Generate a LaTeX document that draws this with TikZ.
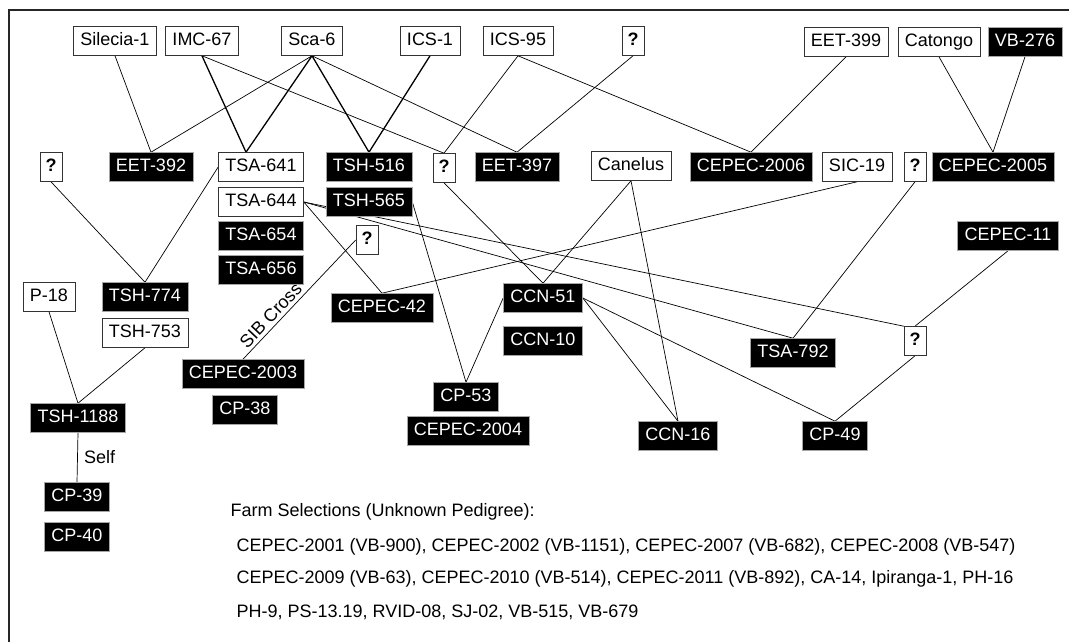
\documentclass[tikz,border=0pt]{standalone}
\usepackage{fontspec}
\setmainfont{Liberation Sans}
\pgfdeclarelayer{links}
\pgfsetlayers{links,main}
\tikzset{
  lbl/.style={font=\fontsize{18}{21}\selectfont},
  wbox/.style={lbl, draw=black!80, line width=0.6pt, fill=white, text=black,
    minimum height=29pt, inner xsep=7pt, inner ysep=0pt, text height=13pt, text depth=3.5pt},
  bbox/.style={wbox, draw=black!35, fill=black, text=white},
  qbox/.style={wbox, minimum width=22pt, inner xsep=3pt, font=\fontsize{18}{21}\selectfont\bfseries},
  link/.style={line width=0.7pt},
  dlink/.style={line width=1.3pt}
}
\begin{document}
\begin{tikzpicture}[x=1pt,y=-1pt]
\useasboundingbox (0,0) rectangle (1069,642);
\draw[line width=2.2pt, black!85] (9,642) -- (9,10) -- (1069,10);

% founders
\node[wbox] (silecia) at (115,41) {Silecia-1};
\node[wbox] (imc67) at (202,41) {IMC-67};
\node[wbox] (sca6) at (312,41) {Sca-6};
\node[wbox] (ics1) at (430,41) {ICS-1};
\node[wbox] (ics95) at (518,41) {ICS-95};
\node[qbox] (q1) at (633,41) {?};
\node[wbox] (eet399) at (846,42) {EET-399};
\node[wbox] (catongo) at (939,42) {Catongo};
\node[bbox] (vb276) at (1025,42) {VB-276};

% second row
\node[qbox] (q2) at (51,167) {?};
\node[bbox] (eet392) at (151,167) {EET-392};
\node[wbox] (tsa641) at (261,167) {TSA-641};
\node[bbox] (tsh516) at (369,167) {TSH-516};
\node[qbox] (q3) at (444,168) {?};
\node[bbox] (eet397) at (517,167) {EET-397};
\node[wbox] (canelus) at (631,166) {Canelus};
\node[bbox] (cepec2006) at (751,167) {CEPEC-2006};
\node[wbox] (sic19) at (857,167) {SIC-19};
\node[qbox] (q4) at (915,167) {?};
\node[bbox] (cepec2005) at (993,167) {CEPEC-2005};

\node[wbox] (tsa644) at (261,202) {TSA-644};
\node[bbox] (tsh565) at (369,202) {TSH-565};
\node[bbox] (tsa654) at (261,236) {TSA-654};
\node[bbox] (tsa656) at (261,269.5) {TSA-656};
\node[qbox] (q5) at (367,240) {?};
\node[bbox] (cepec11) at (1008,236) {CEPEC-11};

% lower rows
\node[wbox] (p18) at (49,297) {P-18};
\node[bbox] (tsh774) at (145,297) {TSH-774};
\node[wbox] (tsh753) at (145,333) {TSH-753};
\node[bbox] (cepec42) at (382,308) {CEPEC-42};
\node[bbox] (ccn51) at (543,298) {CCN-51};
\node[bbox] (ccn10) at (543,341) {CCN-10};
\node[bbox] (tsa792) at (793,353) {TSA-792};
\node[qbox] (q6) at (915,341) {?};
\node[bbox] (cepec2003) at (243,374) {CEPEC-2003};
\node[bbox] (cp38) at (245,410) {CP-38};
\node[bbox] (tsh1188) at (78,418) {TSH-1188};
\node[bbox] (cp53) at (466,397) {CP-53};
\node[bbox] (cepec2004) at (468,431) {CEPEC-2004};
\node[bbox] (ccn16) at (678,436) {CCN-16};
\node[bbox] (cp49) at (835,436) {CP-49};
\node[bbox] (cp39) at (77,497) {CP-39};
\node[bbox] (cp40) at (77,537) {CP-40};

% farm selections
\node[lbl, anchor=west] (farm) at (227,512) {Farm Selections (Unknown Pedigree):};
\node[lbl, anchor=west] (sel1) at (233,547) {CEPEC-2001 (VB-900), CEPEC-2002 (VB-1151), CEPEC-2007 (VB-682), CEPEC-2008 (VB-547)};
\node[lbl, anchor=west] (sel2) at (233,579) {CEPEC-2009 (VB-63), CEPEC-2010 (VB-514), CEPEC-2011 (VB-892), CA-14, Ipiranga-1, PH-16};
\node[lbl, anchor=west] (sel3) at (233,612) {PH-9, PS-13.19, RVID-08, SJ-02, VB-515, VB-679};

\begin{pgfonlayer}{links}
\draw[link] (silecia.south) -- (eet392.north);
\draw[link] (sca6.south) -- (eet392.north);
\draw[dlink] (imc67.south) -- ([xshift=-15pt]tsa641.north);
\draw[dlink] (sca6.south) -- ([xshift=-15pt]tsa641.north);
\draw[link] (imc67.south) -- (q3.north);
\draw[dlink] (sca6.south) -- (tsh516.north);
\draw[dlink] (ics1.south) -- (tsh516.north);
\draw[link] (sca6.south) -- (eet397.north);
\draw[link] (ics95.south) -- (q3.north);
\draw[link] (ics95.south) -- (cepec2006.north);
\draw[link] (q1.south) -- (eet397.north);
\draw[link] (eet399.south) -- (cepec2006.north);
\draw[link] (catongo.south) -- (cepec2005.north);
\draw[link] (vb276.south) -- (cepec2005.north);
\draw[link] (q2.south) -- (tsh774.north);
\draw[link] (tsa641.west) -- (tsh774.north);
\draw[link] (q3.south) -- (ccn51.north);
\draw[link] (canelus.south) -- (ccn51.north);
\draw[link] (canelus.south) -- (ccn16.north);
\draw[link] (sic19.south) -- (cepec42.north);
\draw[link] (tsa644.east) -- (cepec42.north);
\draw[link] (tsa644.east) -- (tsa792.north);
\draw[link] (tsa644.east) -- (q6.north west);
\draw[link] (tsh565.east) -- (cp53.north);
\draw[link] (ccn51.west) -- (cp53.north);
\draw[link] (ccn51.east) -- (ccn16.north);
\draw[link] (ccn51.east) -- (cp49.north);
\draw[link] (q4.south) -- (tsa792.north);
\draw[link] (cepec11.south) -- (q6.north);
\draw[link] (q6.south) -- (cp49.north);
\draw[link] (p18.south) -- (tsh1188.north);
\draw[link] (tsh753.south) -- (tsh1188.north);
\draw[link] (cepec2003.north) -- node[lbl, sloped, above, pos=0.31] (sib) {SIB Cross} (q5.west);
\draw[link] (tsh1188.south) -- node[lbl, right=3pt] (self) {Self} (cp39.north);
\end{pgfonlayer}
\end{tikzpicture}
\end{document}
